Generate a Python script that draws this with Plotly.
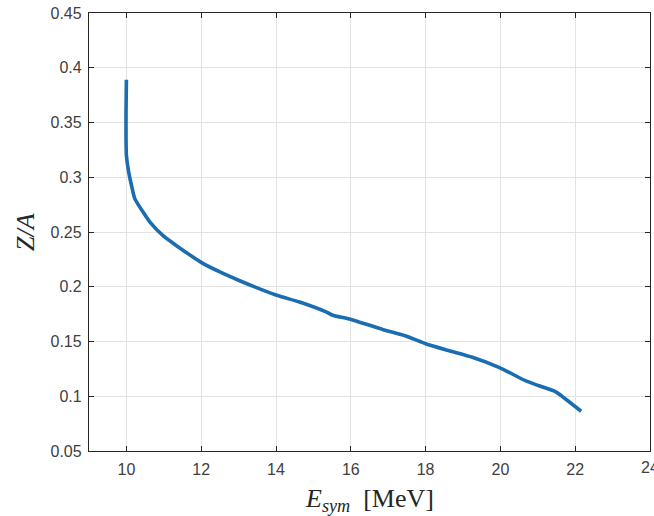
import plotly.graph_objects as go

e_sym = [10.0, 9.99, 9.99, 10.0, 10.05, 10.14, 10.23, 10.45, 10.63, 10.98, 11.34, 12.0, 12.5,
         13.03, 14.0, 14.63, 15.34, 15.51, 15.96, 16.85, 17.47, 18.0, 18.63, 19.25, 19.96,
         20.67, 21.03, 21.47, 21.74, 22.16]
z_over_a = [0.389, 0.36, 0.335, 0.32, 0.307, 0.292, 0.280, 0.268, 0.259, 0.2466, 0.2375, 0.2223,
            0.2135, 0.2055, 0.1925, 0.186, 0.177, 0.174, 0.1706, 0.161, 0.155, 0.148, 0.1416,
            0.1356, 0.1264, 0.1142, 0.1096, 0.1042, 0.0975, 0.0863]

x_ticks = [10, 12, 14, 16, 18, 20, 22, 24]
y_ticks = [0.05, 0.1, 0.15, 0.2, 0.25, 0.3, 0.35, 0.4, 0.45]
y_tick_text = ["0.05", "0.1", "0.15", "0.2", "0.25", "0.3", "0.35", "0.4", "0.45"]

tick_font = dict(family="Liberation Sans, Arial, sans-serif", size=16, color="#404040")
title_font = dict(family="Liberation Serif, Times New Roman, serif", size=26, color="#262626")

fig = go.Figure()
fig.add_trace(go.Scatter(x=e_sym, y=z_over_a, mode="lines",
                         line=dict(color="#1a6db0", width=3.6, shape="spline", smoothing=0.6),
                         showlegend=False))

axis_common = dict(
    showline=True, mirror="allticks", linecolor="#262626", linewidth=1.3,
    ticks="inside", ticklen=5, tickwidth=1.2, tickcolor="#262626",
    showgrid=True, gridcolor="#e3e3e3", gridwidth=1, zeroline=False,
    tickfont=tick_font, automargin=False,
)

# last x label ("24") drawn as an annotation so it can run off the page edge like the reference
fig.update_xaxes(range=[9, 24], tickvals=x_ticks, ticktext=[str(t) for t in x_ticks[:-1]] + [""],
                 ticklabelstandoff=4, **axis_common)
fig.update_yaxes(range=[0.05, 0.45], tickvals=y_ticks, ticktext=y_tick_text,
                 ticklabelstandoff=3, **axis_common)

annotations = [
    dict(text=str(x_ticks[-1]), x=x_ticks[-1], xref="x", y=0, yref="paper",
         yanchor="top", yshift=-6, xanchor="center", showarrow=False, font=tick_font),
    dict(text="<i>E</i><sub><i>sym</i></sub>  [MeV]", x=0.5, xref="paper", y=-49 / 438, yref="paper",
         xanchor="center", yanchor="middle", showarrow=False, font=title_font),
    dict(text="<i>Z/A</i>", x=-64 / 561, xref="paper", y=0.5, yref="paper", textangle=-90,
         xanchor="center", yanchor="middle", showarrow=False, font=title_font),
]

fig.update_layout(width=654, height=516, margin=dict(l=89, r=4, t=13, b=65),
                  paper_bgcolor="white", plot_bgcolor="white", annotations=annotations)

post = ("document.body.style.margin='0';document.body.style.padding='0';"
        "document.body.style.overflow='hidden';"
        "Plotly.relayout('{plot_id}', {width: 654, height: 516});")

fig.write_html("out.html", post_script=post, config={"displayModeBar": False})
